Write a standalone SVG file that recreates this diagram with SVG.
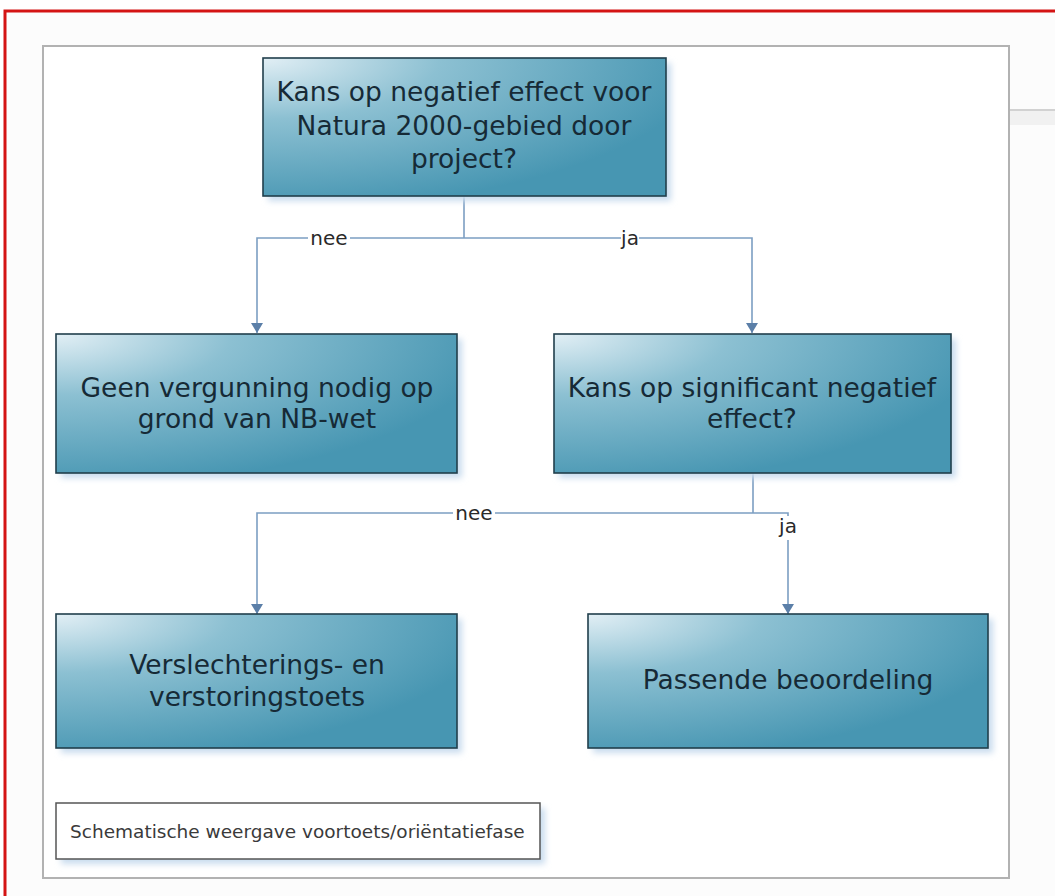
<svg xmlns="http://www.w3.org/2000/svg" width="1055" height="896" viewBox="0 0 1055 896">
  <style>
    .node-text { font-family: "DejaVu Sans", "Liberation Sans", sans-serif; font-size: 26.5px; fill: #162a36; text-anchor: middle; }
    .lbl { font-family: "DejaVu Sans", "Liberation Sans", sans-serif; font-size: 20px; fill: #2a2a2a; text-anchor: middle; }
    .box { fill: url(#boxGrad); stroke: #213f4c; stroke-width: 1.6; }
    .shadow { fill: #c9dcee; filter: url(#blur); }
    .conn { fill: none; stroke: #7c9ec2; stroke-width: 1.6; }
    .cap { font-family: "DejaVu Sans", "Liberation Sans", sans-serif; font-size: 18.5px; fill: #3a3a3a; }
  </style>
  <defs>
    <radialGradient id="boxGrad" cx="0" cy="0" r="1.1" fx="0" fy="0">
      <stop offset="0" stop-color="#e2eff5"/>
      <stop offset="0.4" stop-color="#8cc0d2"/>
      <stop offset="1" stop-color="#4796b2"/>
    </radialGradient>
    <filter id="blur" x="-10%" y="-10%" width="120%" height="130%">
      <feGaussianBlur stdDeviation="3"/>
    </filter>
    <marker id="arrow" viewBox="0 0 10 12" refX="10" refY="6" markerWidth="10" markerHeight="12" markerUnits="userSpaceOnUse" orient="auto">
      <path d="M0,0 L10,6 L0,12 Z" fill="#5b7fa8"/>
    </marker>
  </defs>

  <!-- background and frames -->
  <rect x="0" y="0" width="1055" height="896" fill="#ffffff"/>
  <rect x="5" y="11" width="1060" height="900" fill="#fcfcfc" stroke="#d41414" stroke-width="3"/>
  <rect x="1009" y="111" width="46" height="14" fill="#f1f1f1"/>
  <line x1="1009" y1="110" x2="1055" y2="110" stroke="#c4c4c4" stroke-width="1.5"/>
  <rect x="43" y="46" width="966" height="832" fill="#ffffff" stroke="#b2b2b2" stroke-width="2"/>

  <!-- connectors -->
  <g id="connectors">
    <path class="conn" d="M464 196 V238"/>
    <path class="conn" d="M464 238 H257 V333" marker-end="url(#arrow)"/>
    <path class="conn" d="M464 238 H752 V333" marker-end="url(#arrow)"/>
    <path class="conn" d="M753 472 V513"/>
    <path class="conn" d="M753 513 H257 V614" marker-end="url(#arrow)"/>
    <path class="conn" d="M753 513 H788 V614" marker-end="url(#arrow)"/>
    <rect x="308" y="228" width="42" height="20" fill="#ffffff"/>
    <text class="lbl" x="329" y="245">nee</text>
    <rect x="621" y="228" width="18" height="20" fill="#ffffff"/>
    <text class="lbl" x="630" y="245">ja</text>
    <rect x="453" y="503" width="42" height="20" fill="#ffffff"/>
    <text class="lbl" x="474" y="520">nee</text>
    <rect x="777" y="516" width="22" height="24" fill="#ffffff"/>
    <text class="lbl" x="788" y="533">ja</text>
  </g>

  <!-- nodes -->
  <g id="node-kans-negatief">
    <rect class="shadow" x="268" y="63" width="403" height="138"/>
    <rect class="box" x="263" y="58" width="403" height="138"/>
    <text class="node-text" x="464" y="101">Kans op negatief effect voor</text>
    <text class="node-text" x="464" y="135">Natura 2000-gebied door</text>
    <text class="node-text" x="464" y="168">project?</text>
  </g>

  <g id="node-geen-vergunning">
    <rect class="shadow" x="61" y="339" width="401" height="139"/>
    <rect class="box" x="56" y="334" width="401" height="139"/>
    <text class="node-text" x="257" y="397">Geen vergunning nodig op</text>
    <text class="node-text" x="257" y="428">grond van NB-wet</text>
  </g>

  <g id="node-significant">
    <rect class="shadow" x="559" y="339" width="397" height="139"/>
    <rect class="box" x="554" y="334" width="397" height="139"/>
    <text class="node-text" x="752" y="397">Kans op significant negatief</text>
    <text class="node-text" x="752" y="428">effect?</text>
  </g>

  <g id="node-verslechtering">
    <rect class="shadow" x="61" y="619" width="401" height="134"/>
    <rect class="box" x="56" y="614" width="401" height="134"/>
    <text class="node-text" x="257" y="674">Verslechterings- en</text>
    <text class="node-text" x="257" y="706">verstoringstoets</text>
  </g>

  <g id="node-passende">
    <rect class="shadow" x="593" y="619" width="400" height="134"/>
    <rect class="box" x="588" y="614" width="400" height="134"/>
    <text class="node-text" x="788" y="689">Passende beoordeling</text>
  </g>

  <g id="caption">
    <rect class="shadow" x="61" y="808" width="484" height="56"/>
    <rect x="56" y="803" width="484" height="56" fill="#ffffff" stroke="#555555" stroke-width="1.5"/>
    <text class="cap" x="70" y="838">Schematische weergave voortoets/oriëntatiefase</text>
  </g>
</svg>
